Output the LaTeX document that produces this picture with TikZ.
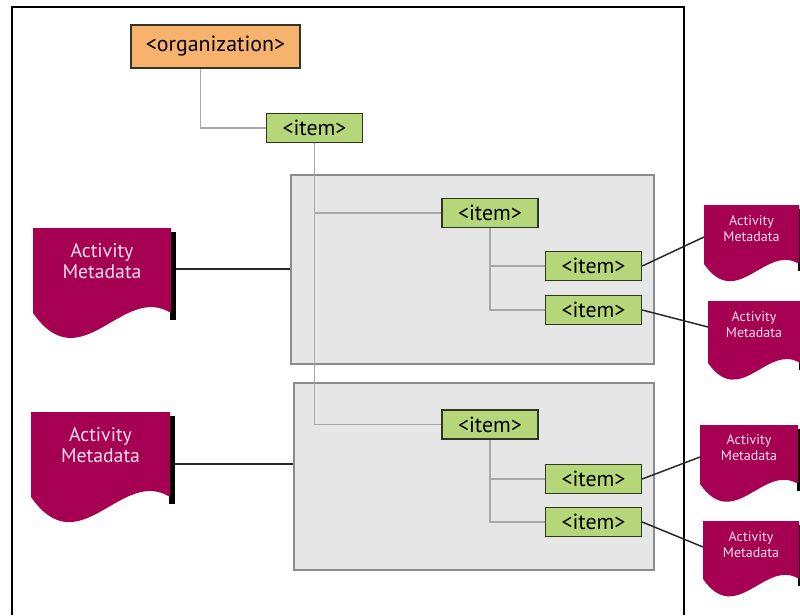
\documentclass[tikz,border=0pt]{standalone}
\usepackage{fontspec}
\setmainfont{PT Sans}
\usepackage{tikz}

\definecolor{metared}{RGB}{166,0,82}
\definecolor{metatext}{RGB}{250,222,238}
\definecolor{itemgreen}{RGB}{181,215,122}
\definecolor{itemedge}{RGB}{45,55,35}
\definecolor{orgorange}{RGB}{247,178,110}
\definecolor{panelgrey}{RGB}{230,230,230}
\definecolor{paneledge}{RGB}{140,140,140}
\definecolor{treegrey}{RGB}{168,168,168}

% metadata sheet: name, x, y, width, height, text offset, pin offset, font
\newcommand{\metadoc}[8]{%
  \fill (#2+#4-1,#3+4) rectangle (#2+#4+5,#3+#5+7);
  \fill[metared] (#2,#3) -- (#2+#4,#3) -- (#2+#4,#3+#5) .. controls (#2+0.65*#4,#3+#5-0.22*#4) and (#2+0.35*#4,#3+#5+0.5*#4) .. (#2,#3+#5) -- cycle;
  \node[metalabel, font=#8] (#1) at (#2+0.5*#4,#3+#6) {Activity\\Metadata};
  \coordinate (#1-w) at (#2,#3+#7);
  \coordinate (#1-e) at (#2+#4+5,#3+#7);
}

\begin{document}
\begin{tikzpicture}[x=0.75pt,y=0.75pt,yscale=-1,xscale=1,
  itembox/.style={draw=itemedge, fill=itemgreen, line width=1.1pt, inner sep=0pt,
    minimum width=72pt, minimum height=22pt, font=\fontsize{16.4}{19}\selectfont},
  orgbox/.style={draw=itemedge, fill=orgorange, line width=1.1pt, inner sep=0pt,
    minimum width=126.75pt, minimum height=32.25pt, font=\fontsize{16.4}{19}\selectfont},
  panel/.style={draw=paneledge, fill=panelgrey, line width=1.1pt, inner sep=0pt},
  metalabel/.style={text=metatext, align=center, inner sep=0pt},
  treeline/.style={draw=treegrey, line width=1.2pt},
  metaline/.style={draw=black!85, line width=1.1pt}]
  \useasboundingbox (0,0) rectangle (800,615);
  \clip (0,0) rectangle (800,615);

  %Frame
  \draw[line width=1.1pt] (12,615) -- (12,7) -- (684,7) -- (684,615);

  %Panels
  \node[panel, minimum width=272.25pt, minimum height=141.75pt] (panelA) at (472.5,269.5) {};
  \node[panel, minimum width=270pt, minimum height=140.25pt] (panelB) at (474,476.5) {};

  % Text Node
  \node[orgbox] (org) at (215.5,46.5) {<organization>};
  \node[itembox] (item0) at (314.5,128) {<item>};
  \node[itembox] (itemA) at (490,213) {<item>};
  \node[itembox] (itemA1) at (593.5,266) {<item>};
  \node[itembox] (itemA2) at (593.5,310) {<item>};
  \node[itembox] (itemB) at (490,424.5) {<item>};
  \node[itembox] (itemB1) at (593.5,479) {<item>};
  \node[itembox] (itemB2) at (593.5,522) {<item>};

  %Tree lines
  \draw[treeline] (org.south) ++(-15,0) |- (item0.west);
  \draw[treeline] (item0.south) |- (itemA.west);
  \draw[treeline] (item0.south) |- (itemB.west);
  \draw[treeline] (itemA.south) |- (itemA1.west);
  \draw[treeline] (itemA.south) |- (itemA2.west);
  \draw[treeline] (itemB.south) |- (itemB1.west);
  \draw[treeline] (itemB.south) |- (itemB2.west);

  %Metadata sheets
  \metadoc{docL1}{33}{228}{138}{85}{33}{41}{\fontsize{14.8}{15.75}\selectfont}
  \metadoc{docL2}{31}{412}{139}{85}{33}{52}{\fontsize{14.8}{15.75}\selectfont}
  \metadoc{docR1}{704}{205}{95}{59}{23.5}{32}{\fontsize{10.5}{12}\selectfont}
  \metadoc{docR2}{708}{301}{92}{62}{23.5}{26}{\fontsize{10.5}{12}\selectfont}
  \metadoc{docR3}{700}{425}{98}{59}{22.5}{32}{\fontsize{10.5}{12}\selectfont}
  \metadoc{docR4}{703}{521}{96}{58}{23.5}{26}{\fontsize{10.5}{12}\selectfont}

  %Metadata links
  \draw[metaline] (docL1-e) -- (docL1-e -| panelA.west);
  \draw[metaline] (docL2-e) -- (docL2-e -| panelB.west);
  \draw[metaline] (itemA1.east) -- (docR1-w);
  \draw[metaline] (itemA2.east) -- (docR2-w);
  \draw[metaline] (itemB1.east) -- (docR3-w);
  \draw[metaline] (itemB2.east) -- (docR4-w);
\end{tikzpicture}
\end{document}
